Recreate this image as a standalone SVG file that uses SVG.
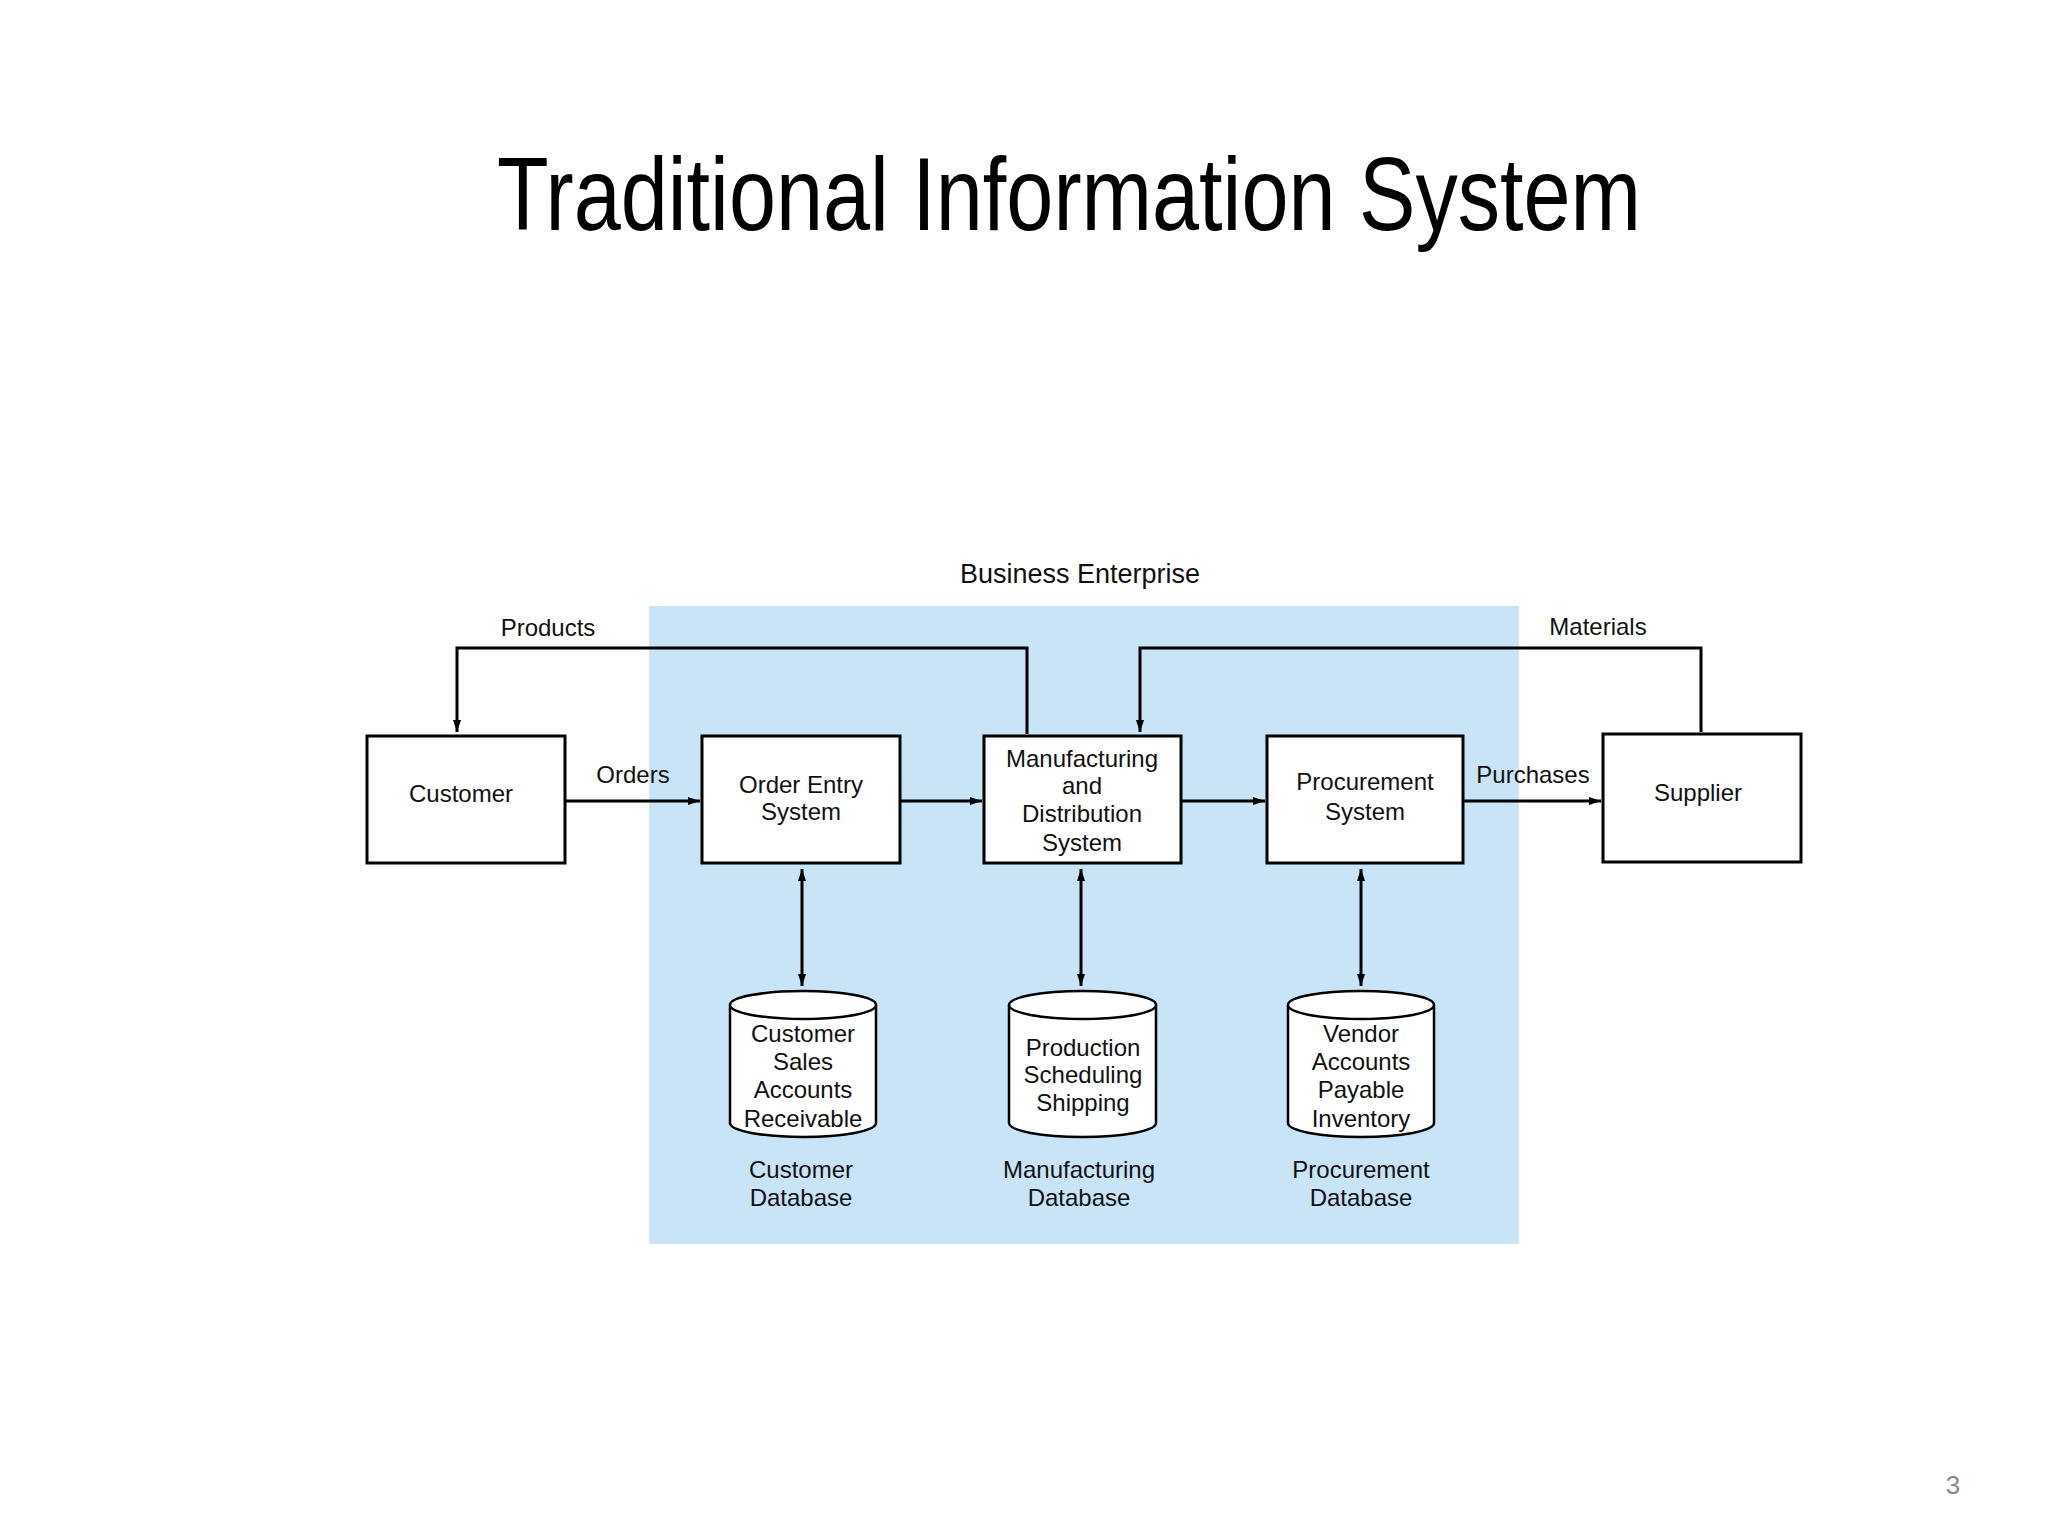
<svg xmlns="http://www.w3.org/2000/svg" width="2048" height="1536" viewBox="0 0 2048 1536">
<defs>
<marker id="ah" viewBox="0 0 10 10" refX="10" refY="5" markerWidth="12" markerHeight="8" markerUnits="userSpaceOnUse" orient="auto-start-reverse" preserveAspectRatio="none"><path d="M0,0 L10,5 L0,10 z" fill="#000"/></marker>
</defs>
<style>
.box{fill:#fff;stroke:#000;stroke-width:3}
.t{font-family:"Liberation Sans",Arial,sans-serif;font-size:24px;text-anchor:middle;fill:#111}
.c{fill:none;stroke:#000;stroke-width:3}
.ca{fill:none;stroke:#000;stroke-width:3;marker-end:url(#ah)}
.cb{fill:none;stroke:#000;stroke-width:3;marker-end:url(#ah);marker-start:url(#ah)}
.cyl{fill:#fff;stroke:#000;stroke-width:2.5}
</style>
<rect width="2048" height="1536" fill="#fff"/>
<text x="1069" y="230" font-family="Liberation Sans,Arial,sans-serif" font-size="104" textLength="1144" lengthAdjust="spacingAndGlyphs" text-anchor="middle" fill="#000">Traditional Information System</text>
<rect x="649" y="606" width="870" height="638" fill="#c9e3f7"/>
<text class="t" x="1080" y="583" font-size="27" style="font-size:27px">Business Enterprise</text>
<g id="connectors">
<polyline class="ca" points="1027,734 1027,648 457,648 457,732"/>
<polyline class="ca" points="1701,732 1701,648 1140,648 1140,732"/>
<line class="ca" x1="565" y1="801" x2="700" y2="801"/>
<line class="ca" x1="900" y1="801" x2="982" y2="801"/>
<line class="ca" x1="1181" y1="801" x2="1265" y2="801"/>
<line class="ca" x1="1463" y1="801" x2="1601" y2="801"/>
<line class="cb" x1="802" y1="869" x2="802" y2="986"/>
<line class="cb" x1="1081" y1="869" x2="1081" y2="986"/>
<line class="cb" x1="1361" y1="869" x2="1361" y2="986"/>
<text class="t" x="548" y="636">Products</text>
<text class="t" x="1598" y="635">Materials</text>
<text class="t" x="633" y="783">Orders</text>
<text class="t" x="1533" y="783">Purchases</text>
</g>
<g id="customer"><rect class="box" x="367" y="736" width="198" height="127"/><text class="t" x="461" y="802">Customer</text></g>
<g id="orderentry"><rect class="box" x="702" y="736" width="198" height="127"/><text class="t" x="801" y="793">Order Entry</text><text class="t" x="801" y="820">System</text></g>
<g id="manufacturing"><rect class="box" x="984" y="736" width="197" height="127"/><text class="t" x="1082" y="767">Manufacturing</text><text class="t" x="1082" y="794">and</text><text class="t" x="1082" y="822">Distribution</text><text class="t" x="1082" y="851">System</text></g>
<g id="procurement"><rect class="box" x="1267" y="736" width="196" height="127"/><text class="t" x="1365" y="790">Procurement</text><text class="t" x="1365" y="820">System</text></g>
<g id="supplier"><rect class="box" x="1603" y="734" width="198" height="128"/><text class="t" x="1698" y="801">Supplier</text></g>
<g id="customerdb">
<path class="cyl" d="M730,1005 A73,14 0 0 1 876,1005 L876,1123 A73,14 0 0 1 730,1123 Z"/>
<path class="cyl" d="M730,1005 A73,14 0 0 0 876,1005"/>
<text class="t" x="803" y="1042">Customer</text><text class="t" x="803" y="1070">Sales</text><text class="t" x="803" y="1098">Accounts</text><text class="t" x="803" y="1127">Receivable</text>
<text class="t" x="801" y="1178">Customer</text><text class="t" x="801" y="1206">Database</text>
</g>
<g id="mfgdb">
<path class="cyl" d="M1009,1005 A73.5,14 0 0 1 1156,1005 L1156,1123 A73.5,14 0 0 1 1009,1123 Z"/>
<path class="cyl" d="M1009,1005 A73.5,14 0 0 0 1156,1005"/>
<text class="t" x="1083" y="1056">Production</text><text class="t" x="1083" y="1083">Scheduling</text><text class="t" x="1083" y="1111">Shipping</text>
<text class="t" x="1079" y="1178">Manufacturing</text><text class="t" x="1079" y="1206">Database</text>
</g>
<g id="procdb">
<path class="cyl" d="M1288,1005 A73,14 0 0 1 1434,1005 L1434,1123 A73,14 0 0 1 1288,1123 Z"/>
<path class="cyl" d="M1288,1005 A73,14 0 0 0 1434,1005"/>
<text class="t" x="1361" y="1042">Vendor</text><text class="t" x="1361" y="1070">Accounts</text><text class="t" x="1361" y="1098">Payable</text><text class="t" x="1361" y="1127">Inventory</text>
<text class="t" x="1361" y="1178">Procurement</text><text class="t" x="1361" y="1206">Database</text>
</g>
<text x="1953" y="1494" font-family="Liberation Sans,Arial,sans-serif" font-size="26" fill="#8a8a8a" text-anchor="middle">3</text>
</svg>
